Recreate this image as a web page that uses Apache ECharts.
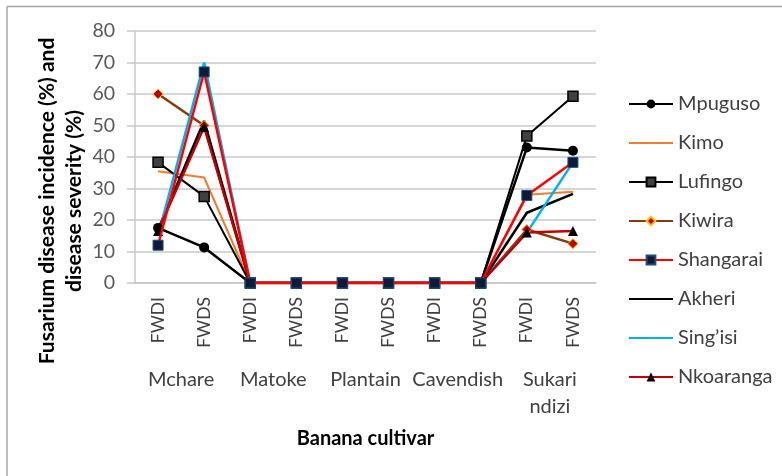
<!DOCTYPE html>
<html>
<head>
<meta charset="utf-8">
<script src="https://cdn.jsdelivr.net/npm/echarts@6/dist/echarts.min.js"></script>
<style>
  html, body { margin: 0; padding: 0; background: #fff; }
  #chart { width: 782px; height: 476px; }
</style>
</head>
<body>
<div id="chart"></div>
<script>
// categories
const subCats = ['FWDI', 'FWDS', 'FWDI', 'FWDS', 'FWDI', 'FWDS', 'FWDI', 'FWDS', 'FWDI', 'FWDS']
const groups = ['Mchare', 'Matoke', 'Plantain', 'Cavendish', 'Sukari\nndizi']

// values per cultivar (%)
const mpuguso = [17.5, 11.3, 0, 0, 0, 0, 0, 0, 43, 42]
const kimo = [35.5, 33.5, 0, 0, 0, 0, 0, 0, 28, 29]
const lufingo = [38.3, 27.5, 0, 0, 0, 0, 0, 0, 46.7, 59.3]
const kiwira = [60, 50, 0, 0, 0, 0, 0, 0, 17, 12.5]
const shangarai = [12, 67, 0, 0, 0, 0, 0, 0, 27.8, 38.3]
const akheri = [17, 51.5, 0, 0, 0, 0, 0, 0, 22.3, 28.3]
const singisi = [15, 70, 0, 0, 0, 0, 0, 0, 16, 38.3]
const nkoaranga = [16.5, 49.5, 0, 0, 0, 0, 0, 0, 16, 16.5]

const font = 'Lato, "Liberation Sans", sans-serif'
const gridColor = '#C8C8C8'

const myChart = echarts.init(document.getElementById('chart'))

const line = (name, data, color, symbol, itemStyle, width, z) => ({
  name,
  type: 'line',
  data,
  symbol: symbol || 'none',
  symbolSize: 10,
  showSymbol: !!symbol,
  lineStyle: { color, width: width || 2.5 },
  itemStyle: itemStyle || { color },
  z: z || 3
})

const series = [
  line('Mpuguso', mpuguso, '#000', 'circle'),
  line('Kimo', kimo, '#ED7D31', null, null, 2),
  line('Lufingo', lufingo, '#000', 'rect', { color: '#404040', borderColor: '#000', borderWidth: 1.5 }, 2),
  line('Kiwira', kiwira, '#843C0C', 'diamond', { color: '#C00000', borderColor: '#FFC000', borderWidth: 1 }),
  line('Shangarai', shangarai, '#FF0000', 'rect', { color: '#0D1A3A', borderColor: '#1F4E79', borderWidth: 1 }, 2.5, 4),
  line('Akheri', akheri, '#000'),
  line('Sing\u2019isi', singisi, '#00B0F0'),
  line('Nkoaranga', nkoaranga, '#C00000', 'triangle', { color: '#000' })
]

// hide the fallback legend dot on series drawn without markers
const legendData = series.map(s => (s.showSymbol ? { name: s.name } : { name: s.name, itemStyle: { opacity: 0 } }))

const option = {
  animation: false,
  textStyle: { fontFamily: font },
  grid: { left: 135, right: 186, top: 31, bottom: 193 },
  legend: {
    data: legendData,
    orient: 'vertical',
    left: 628,
    top: 94,
    padding: 0,
    itemWidth: 44,
    itemHeight: 11,
    itemGap: 19,
    textStyle: { fontSize: 20, color: '#404040', lineHeight: 20, fontFamily: font }
  },
  xAxis: [
    {
      type: 'category',
      data: subCats,
      boundaryGap: true,
      axisLine: { lineStyle: { color: gridColor, width: 1.5 } },
      axisTick: { interval: 0, length: 68, lineStyle: { color: gridColor, width: 1.5 } },
      axisLabel: { interval: 0, rotate: 90, margin: 14, fontSize: 17.5, color: '#404040' }
    },
    {
      type: 'category',
      data: groups,
      position: 'bottom',
      boundaryGap: true,
      axisLine: { show: false },
      axisTick: { interval: 0, length: 138, lineStyle: { color: gridColor, width: 1.5 } },
      axisLabel: { interval: 0, margin: 83, fontSize: 20, lineHeight: 27, color: '#404040' },
      name: 'Banana cultivar',
      nameLocation: 'middle',
      nameGap: 146,
      nameTextStyle: { fontSize: 20, fontWeight: 'bold', color: '#000' }
    }
  ],
  yAxis: {
    type: 'value',
    min: 0,
    max: 80,
    interval: 10,
    axisLine: { show: true, lineStyle: { color: gridColor, width: 1.5 } },
    axisTick: { show: true, length: 8, lineStyle: { color: gridColor, width: 1.5 } },
    axisLabel: { margin: 20, fontSize: 19.5, color: '#595959' },
    splitLine: { lineStyle: { color: gridColor, width: 1.5 } }
  },
  graphic: [
    // outer frame (top and left edges only visible)
    { type: 'line', shape: { x1: 7, y1: 6.5, x2: 782, y2: 6.5 }, style: { stroke: '#A6A6A6', lineWidth: 1.5 } },
    { type: 'line', shape: { x1: 7, y1: 6.5, x2: 7, y2: 476 }, style: { stroke: '#A6A6A6', lineWidth: 1.5 } },
    {
      type: 'text',
      x: 61,
      y: 201,
      rotation: Math.PI / 2,
      style: {
        text: 'Fusarium disease incidence (%) and\ndisease severity (%)',
        font: 'bold 21px ' + font,
        fill: '#000',
        align: 'center',
        verticalAlign: 'middle',
        lineHeight: 27
      }
    }
  ],
  series
}

myChart.setOption(option)

window.addEventListener('resize', () => {
  myChart.resize()
})
</script>
</body>
</html>
